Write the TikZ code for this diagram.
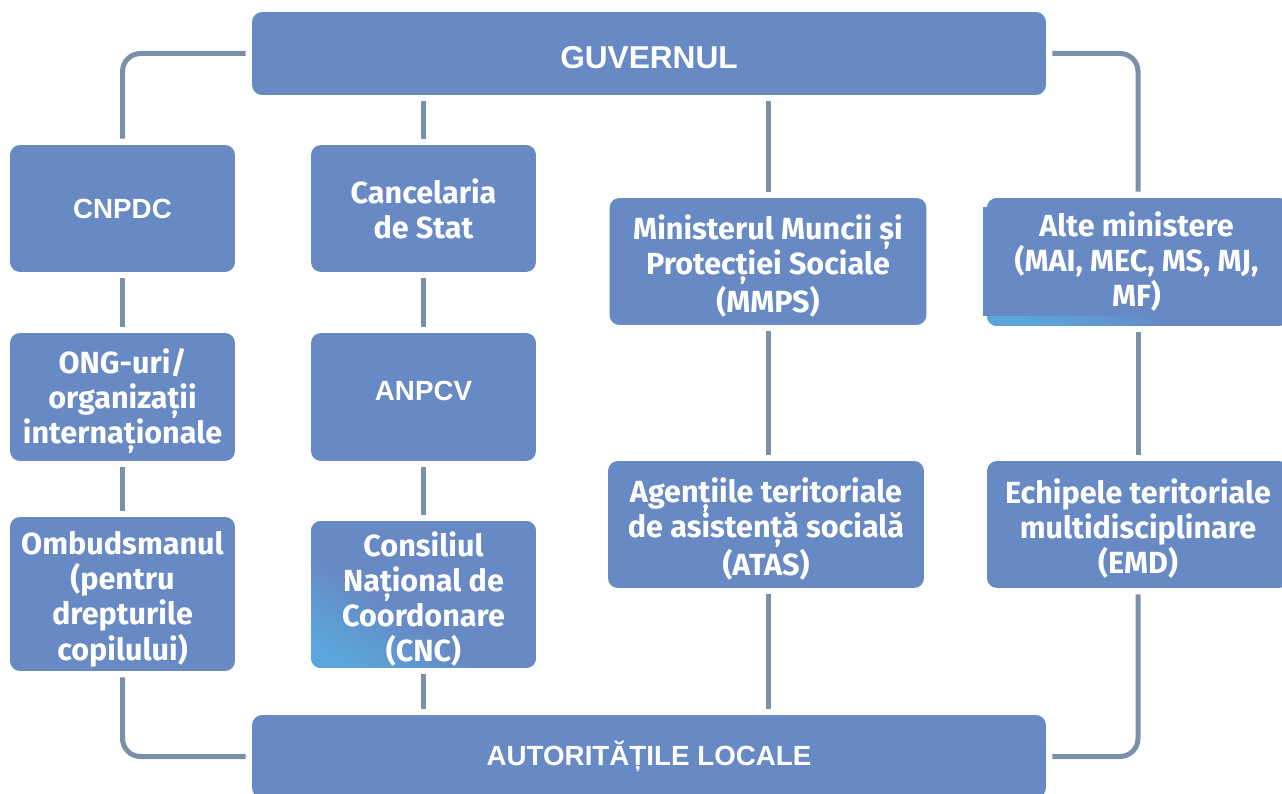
\documentclass[tikz,border=0pt]{standalone}
\usepackage{fontspec}
\setmainfont{Fira Sans}
\newfontfamily\capsfont{Liberation Sans}
\usepackage{tikz}
\usetikzlibrary{positioning}
\definecolor{boxblue}{RGB}{103, 137, 196}
\definecolor{skyblue}{RGB}{90, 166, 220}
\definecolor{linkgray}{RGB}{122, 144, 168}

\pgfdeclareverticalshading{cornerfade}{100bp}{color(0bp)=(skyblue); color(22bp)=(skyblue);
    color(42bp)=(boxblue); color(100bp)=(boxblue)}

% taller first line, pushes the text block a little down
\newcommand{\dropline}{\rule{0pt}{19pt}}

\tikzset{
    orgbox/.style={fill=boxblue, rounded corners=0.2cm, text=white, align=center,
                   font=\bfseries\fontsize{17.4}{20}\selectfont, inner sep=0pt},
    capsbox/.style={orgbox, font=\capsfont\bfseries\fontsize{15.8}{19}\selectfont},
    fadebox/.style={orgbox, shading=cornerfade, shading angle=-35},
    link/.style={linkgray, line width=0.1cm, shorten >=0.12cm, shorten <=0.12cm},
    loop/.style={link, rounded corners=0.36cm}
}

\begin{document}
\begin{tikzpicture}[x=0.02cm, y=-0.02cm]
            \useasboundingbox (0,0) rectangle (1282,794);
            % top and bottom
            \node[capsbox, minimum width=15.88cm, minimum height=1.66cm,
                  font=\capsfont\bfseries\fontsize{18}{20}\selectfont] (guv) at (649,53.5) {\rule{0pt}{17.5pt}GUVERNUL};
            \node[capsbox, minimum width=15.88cm, minimum height=1.66cm] (aut) at (649,756.5) {AUTORITĂȚILE LOCALE};
            % first column
            \node[capsbox, minimum width=4.5cm, minimum height=2.54cm] (cnpdc) at (122.5,208.5) {CNPDC};
            \node[orgbox, minimum width=4.5cm, minimum height=2.56cm] (ong)   at (122.5,397)   {\dropline ONG-uri/\\organizații\\internaționale};
            \node[orgbox, minimum width=4.5cm, minimum height=3.08cm] (omb)   at (122.5,594)   {\dropline Ombudsmanul\\(pentru\\drepturile\\copilului)};
            % second column
            \node[orgbox, minimum width=4.5cm, minimum height=2.54cm] (canc)  at (423.5,208.5) {Cancelaria\\de Stat};
            \node[capsbox, minimum width=4.5cm, minimum height=2.56cm] (anpcv) at (423.5,397)  {\rule[-6.8pt]{0pt}{6.8pt}ANPCV};
            \node[fadebox, minimum width=4.5cm, minimum height=2.94cm] (cnc)  at (423.5,594.5) {\dropline Consiliul\\Național de\\Coordonare\\(CNC)};
            % third column
            \node[orgbox, minimum width=6.34cm, minimum height=2.54cm] (mmps) at (768,261.5) {\dropline Ministerul Muncii și\\Protecției Sociale\\(MMPS)};
            \node[orgbox, minimum width=6.32cm, minimum height=2.54cm] (atas) at (766,524.5) {\dropline Agențiile teritoriale\\de asistență socială\\(ATAS)};
            % fourth column
            \node[fadebox, minimum width=6.04cm, minimum height=2.56cm] (altebg) at (1138,262) {};
            \node[fill=boxblue, text=white, align=center, inner sep=0pt,
                  font=\bfseries\fontsize{17.4}{20}\selectfont,
                  minimum width=6.14cm, minimum height=2.18cm] (alte) at (1136.5,261.5) {Alte ministere\\(MAI, MEC, MS, MJ,\\MF)};
            \node[orgbox, minimum width=6.04cm, minimum height=2.54cm] (emd) at (1138,524.5) {\dropline Echipele teritoriale\\multidisciplinare\\(EMD)};

            % connectors
            \draw[loop] (guv.west) -| (cnpdc.north);
            \draw[link] (cnpdc) -- (ong);
            \draw[link] (ong) -- (omb);
            \draw[loop] (omb.south) |- (aut.west);

            \draw[link] (canc.north |- guv.south) -- (canc.north);
            \draw[link] (canc) -- (anpcv);
            \draw[link] (anpcv) -- (cnc);
            \draw[link] (cnc.south) -- (cnc.south |- aut.north);

            \draw[link] (mmps.north |- guv.south) -- (mmps.north);
            \draw[link] (mmps.south) -- (mmps.south |- atas.north);
            \draw[link] (mmps.south |- atas.south) -- (mmps.south |- aut.north);

            \draw[loop] (guv.east) -| (altebg.north);
            \draw[link] (altebg) -- (emd);
            \draw[loop] (emd.south) |- (aut.east);
        \end{tikzpicture}
\end{document}
